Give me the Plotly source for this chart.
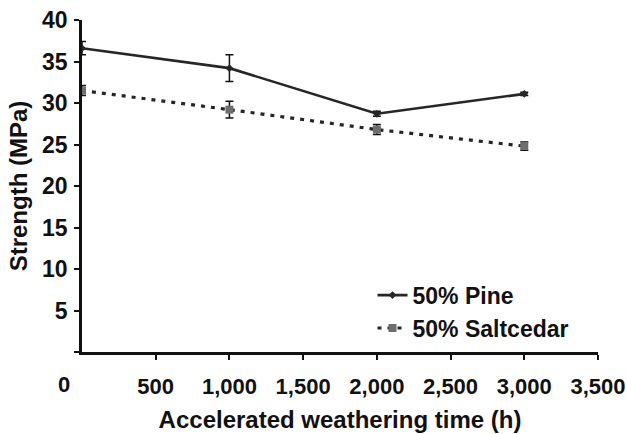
import plotly.graph_objects as go

# Accelerated weathering time (h)
hours = [0, 1000, 2000, 3000]

# Flexural strength (MPa) with standard deviation
pine_strength = [36.6, 34.2, 28.7, 31.1]
pine_sd = [0.8, 1.6, 0.3, 0.2]
saltcedar_strength = [31.5, 29.2, 26.8, 24.8]
saltcedar_sd = [0.6, 1.0, 0.6, 0.5]

x_tickvals = [500, 1000, 1500, 2000, 2500, 3000, 3500]
x_ticktext = ["500", "1,000", "1,500", "2,000", "2,500", "3,000", "3,500"]
y_tickvals = [0, 5, 10, 15, 20, 25, 30, 35, 40]
y_ticktext = ["", "5", "10", "15", "20", "25", "30", "35", "40"]

FONT = "Arial, Liberation Sans, sans-serif"
INK = "#111111"

fig = go.Figure()

fig.add_trace(go.Scatter(
    x=hours, y=pine_strength, name="<b>50% Pine</b>", mode="lines+markers",
    line=dict(color="#262626", width=2.6),
    marker=dict(symbol="diamond", size=6, color="#262626"),
    error_y=dict(type="data", array=pine_sd, color=INK, thickness=1.5, width=4),
))

fig.add_trace(go.Scatter(
    x=hours, y=saltcedar_strength, name="<b>50% Saltcedar</b>", mode="lines+markers",
    line=dict(color="#262626", width=3.2, dash="4px,6px"),
    marker=dict(symbol="square", size=8, color="#6e6e6e"),
    error_y=dict(type="data", array=saltcedar_sd, color=INK, thickness=1.5, width=4),
))

fig.update_layout(
    width=626, height=434,
    margin=dict(l=82, r=28, t=20, b=82, autoexpand=False),
    paper_bgcolor="white", plot_bgcolor="white",
    font=dict(family=FONT, size=23, color=INK),
    showlegend=True,
    legend=dict(
        x=0.563, y=0.236, xanchor="left", yanchor="top",
        bgcolor="rgba(0,0,0,0)", font=dict(size=23, family=FONT, color=INK),
        itemwidth=30, tracegroupgap=0,
    ),
    xaxis=dict(
        range=[0, 3500], tickvals=x_tickvals,
        ticktext=[f"<b>{t}</b>" for t in x_ticktext],
        showline=True, linecolor=INK, linewidth=2.5,
        ticks="outside", ticklen=5, tickwidth=2, tickcolor=INK,
        showgrid=False, zeroline=False, automargin=False,
        ticklabeloverflow="allow",
        tickfont=dict(size=22, family=FONT, color=INK),
        ticklabelstandoff=8,
        title=dict(text="<b>Accelerated weathering time (h)</b>", standoff=14,
                   font=dict(size=24, family=FONT, color=INK)),
    ),
    yaxis=dict(
        range=[0, 40], tickvals=y_tickvals,
        ticktext=[f"<b>{t}</b>" if t else "" for t in y_ticktext],
        showline=True, linecolor=INK, linewidth=2.5,
        ticks="outside", ticklen=5, tickwidth=2, tickcolor=INK,
        showgrid=False, zeroline=False, automargin=False,
        ticklabeloverflow="allow",
        tickfont=dict(size=23, family=FONT, color=INK),
        ticklabelstandoff=2,
        title=dict(text="<b>Strength (MPa)</b>", standoff=8,
                   font=dict(size=24, family=FONT, color=INK)),
    ),
)

# Shared origin label below the corner
fig.add_annotation(
    x=(64 - 82) / 516, y=-(384 - 352) / 332, xref="paper", yref="paper",
    xanchor="center", yanchor="middle", text="<b>0</b>", showarrow=False,
    font=dict(size=22, family=FONT, color=INK),
)

fig.write_html("out.html")
